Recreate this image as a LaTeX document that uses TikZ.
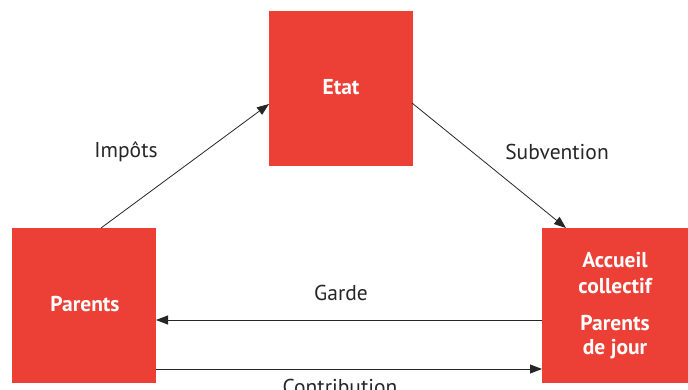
\documentclass[tikz,border=0pt]{standalone}
\usepackage{fontspec}
\setmainfont{PT Sans}
\usetikzlibrary{arrows.meta}
\definecolor{boxred}{RGB}{236,64,54}
\begin{document}
\begin{tikzpicture}[x=1pt,y=-1pt,
  redbox/.style={fill=boxred,draw=none,inner sep=0pt},
  boxtext/.style={text=white,font=\fontsize{21.5}{26}\selectfont\bfseries,align=center},
  lab/.style={font=\fontsize{21.5}{26}\selectfont,text=black!85},
  arr/.style={-{Triangle[length=12pt,width=9pt]},line width=0.8pt,black!85}]
\useasboundingbox (0,0) rectangle (688,390);
\node[redbox,minimum width=144pt,minimum height=155pt] (etat) at (341,88.5) {};
\node[redbox,minimum width=144pt,minimum height=155pt] (parents) at (84,305.5) {};
\node[redbox,minimum width=146pt,minimum height=155pt] (accueil) at (615,305.5) {};
\node[boxtext] (etatt) at (341,87) {Etat};
\node[boxtext] (parentst) at (85,304) {Parents};
\node[boxtext] (acc1) at (615,260) {Accueil};
\node[boxtext] (acc2) at (615,286) {collectif};
\node[boxtext] (acc3) at (615,323) {Parents};
\node[boxtext] (acc4) at (615,349) {de jour};
\coordinate (p1) at (101,228);
\coordinate (e1) at (269,104);
\coordinate (e2) at (412,103);
\coordinate (a1) at (566,228);
\coordinate (a2) at (542,320);
\coordinate (p2) at (156,320);
\coordinate (p3) at (156,369);
\coordinate (a3) at (542,369);
\draw[arr] (p1) -- (e1);
\draw[arr] (e2) -- (a1);
\draw[arr] (a2) -- (p2);
\draw[arr] (p3) -- (a3);
\node[lab] (limp) at (126,152) {Impôts};
\node[lab] (lsub) at (557,152) {Subvention};
\node[lab] (lgar) at (341,293) {Garde};
\node[lab] (lcon) at (340,387) {Contribution};
\end{tikzpicture}
\end{document}
